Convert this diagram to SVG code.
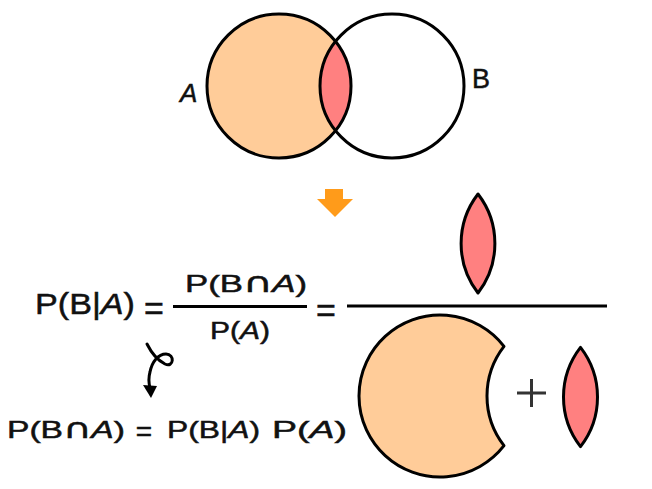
<svg xmlns="http://www.w3.org/2000/svg" width="652" height="489" viewBox="0 0 652 489">
<style>
.t{font-family:"Liberation Sans","DejaVu Sans",sans-serif;fill:#111;stroke:#111;stroke-width:0.5}
.i{font-style:italic}
.cap{font-family:"DejaVu Sans",sans-serif;font-size:1.15em}
.ln{stroke:#000;stroke-width:3;fill:none}
.peach{fill:#FFCC99}
.pink{fill:#FF8080}
.sh{stroke:#000;stroke-width:3;stroke-linejoin:round}
</style>
<rect width="652" height="489" fill="#fff"/>
<g id="venn">
<circle cx="279" cy="86" r="72" class="peach"/>
<path class="pink" d="M335.5,41.4 A72,72 0 0,1 335.5,130.6 A72,72 0 0,1 335.5,41.4 Z"/>
<circle cx="279" cy="86" r="72" class="ln"/>
<circle cx="392" cy="86" r="72" class="ln"/>
<text class="t i" x="180" y="102" font-size="26">A</text>
<text class="t" x="472" y="88" font-size="27">B</text>
</g>
<g id="arrow-down">
<polygon points="325,189 343,189 343,199 353,199 335,217 317,199 325,199" fill="#FF9B1A"/>
</g>
<g id="formula">
<text class="t" x="35" y="314" font-size="30" textLength="100" lengthAdjust="spacingAndGlyphs">P(B|<tspan class="i">A</tspan>)</text>
<text class="t" x="154" y="320" font-size="34" text-anchor="middle">=</text>
<text class="t" x="185" y="292" font-size="24" textLength="122" lengthAdjust="spacingAndGlyphs">P(B<tspan class="cap">∩</tspan><tspan class="i">A</tspan>)</text>
<line x1="173" y1="306.5" x2="307" y2="306.5" stroke="#000" stroke-width="3"/>
<text class="t" x="210" y="339" font-size="23" textLength="60" lengthAdjust="spacingAndGlyphs">P(<tspan class="i">A</tspan>)</text>
<text class="t" x="326" y="322" font-size="34" text-anchor="middle">=</text>
</g>
<g id="curly">
<path class="ln" stroke-width="2.5" stroke-linecap="round" d="M147,344 C151,352 157,360 165,364 C174,368 175,354 166,354 C158,354 152,362 150,372 C148,379 149,384 150,388"/>
<polygon points="143,385 157,386 151,398" fill="#000"/>
</g>
<g id="product">
<text class="t" x="7" y="438" font-size="24" textLength="118" lengthAdjust="spacingAndGlyphs">P(B<tspan class="cap">∩</tspan><tspan class="i">A</tspan>)</text>
<text class="t" x="144" y="441" font-size="28" text-anchor="middle">=</text>
<text class="t" x="167" y="438" font-size="24" textLength="93" lengthAdjust="spacingAndGlyphs">P(B|<tspan class="i">A</tspan>)</text>
<text class="t" x="272" y="438" font-size="24" textLength="75" lengthAdjust="spacingAndGlyphs">P(<tspan class="i">A</tspan>)</text>
</g>
<g id="pictorial">
<path class="pink sh" d="M478,194 A81,81 0 0,1 478,293 A81,81 0 0,1 478,194 Z"/>
<line x1="347" y1="306" x2="607" y2="306" stroke="#000" stroke-width="3"/>
<path class="peach sh" d="M504,346.35 A81,81 0 1,0 504,445.65 A81,81 0 0,1 504,346.35 Z"/>
<path d="M517,393 H546 M531.5,379 V407" stroke="#333" stroke-width="3"/>
<path class="pink sh" d="M580.5,347.35 A81,81 0 0,1 580.5,446.65 A81,81 0 0,1 580.5,347.35 Z"/>
</g>
</svg>
